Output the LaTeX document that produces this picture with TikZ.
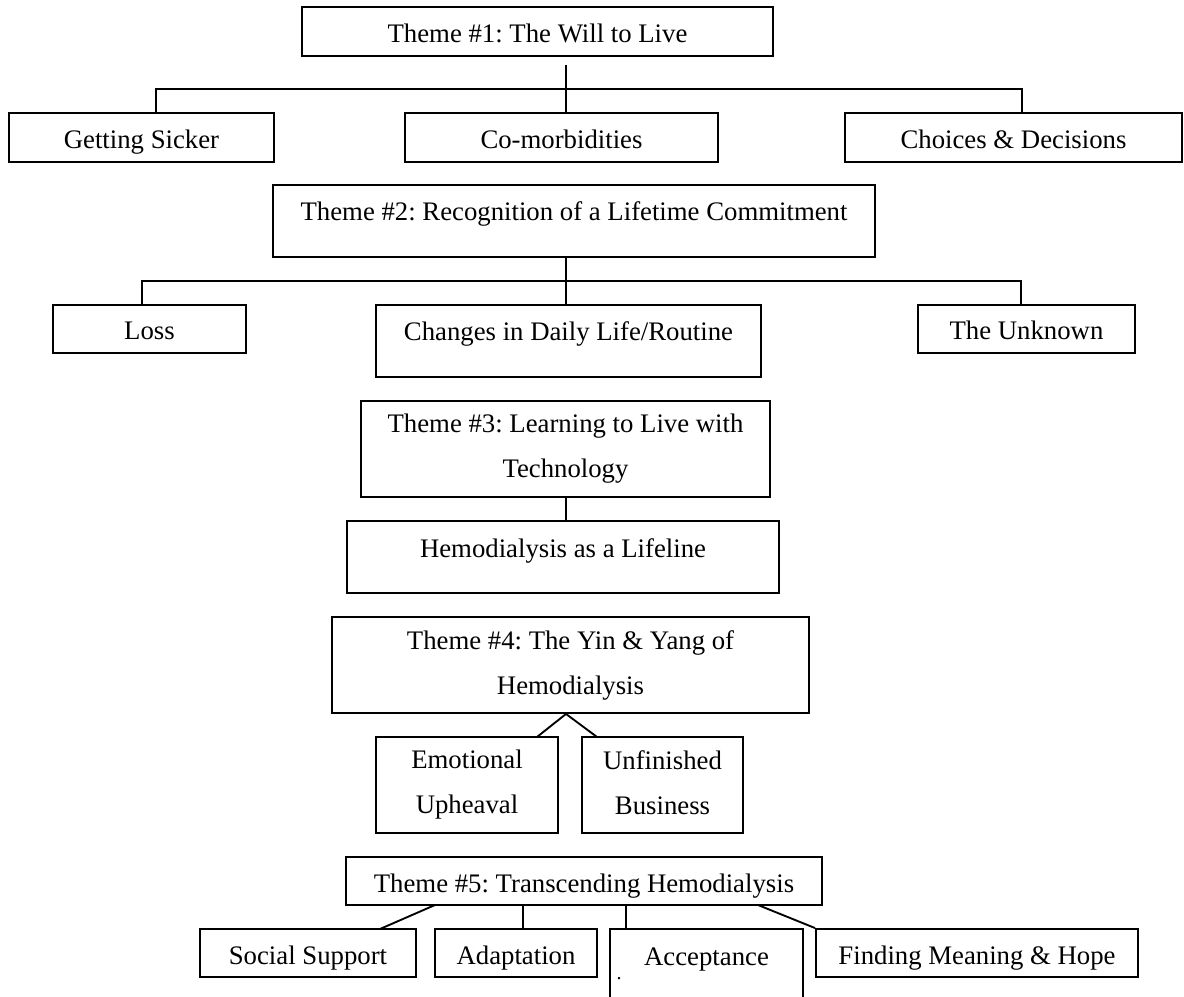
\documentclass[tikz,border=0pt]{standalone}
\usepackage{fontspec}
\setmainfont{Liberation Serif}
\frenchspacing
\begin{document}
\begin{tikzpicture}[
    x=0.4pt,
    y=-0.4pt,
    line join=miter,
    every node/.style={
        font=\fontsize{10.7}{18}\selectfont
    },
    box/.style={
        draw,
        line width=0.75pt,
        inner sep=0pt,
        align=center
    },
    single/.style={
        box,
        text height=9.4pt,
        text depth=0.6pt
    },
    lifted/.style={
        box,
        text height=9.2pt,
        text depth=9.2pt
    },
    pair/.style={
        box,
        execute at begin node={\rule{0pt}{9.6pt}},
        execute at end node={\rule[-2pt]{0pt}{2pt}}
    },
    link/.style={
        line width=0.75pt
    }
]

\useasboundingbox (0,0) rectangle (1184,997);
\clip (0,0) rectangle (1184,997);

% =================================================
% Theme #1 and its subthemes
% =================================================

\node[single, minimum width=188.4pt, minimum height=19.6pt] (t1) at (537.5,31.5) {Theme \#1: The Will to Live};

\node[single, minimum width=106pt,   minimum height=19.6pt] (sick)   at (141.5,137.5)  {Getting Sicker};
\node[single, minimum width=125.2pt, minimum height=19.6pt] (comorb) at (561.5,137.5)  {Co-morbidities};
\node[single, minimum width=134.8pt, minimum height=19.6pt] (choice) at (1013.5,137.5) {Choices \& Decisions};

\coordinate (trunk1) at (566,65);
\coordinate (busL1)  at (156,89);
\coordinate (busR1)  at (1022,89);

\draw[link] (trunk1) -- (trunk1 |- comorb.north);
\draw[link] (sick.north -| busL1) -- (busL1) -- (busR1) -- (choice.north -| busR1);

% =================================================
% Theme #2 and its subthemes
% =================================================

\node[lifted, minimum width=240.8pt, minimum height=28.8pt] (t2) at (574,221) {Theme \#2: Recognition of a Lifetime Commitment};

\node[single, minimum width=77.2pt, minimum height=19.2pt] (loss)    at (149.5,329)  {Loss};
\node[lifted, minimum width=154pt,  minimum height=28.8pt] (routine) at (568.5,341)  {Changes in Daily Life/Routine};
\node[single, minimum width=86.8pt, minimum height=19.2pt] (unknown) at (1026.5,329) {The Unknown};

\coordinate (busL2) at (142,281);
\coordinate (busR2) at (1021,281);

\draw[link] (t2.south -| trunk1) -- (routine.north -| trunk1);
\draw[link] (loss.north -| busL2) -- (busL2) -- (busR2) -- (unknown.north -| busR2);

% =================================================
% Theme #3
% =================================================

\node[pair, minimum width=163.6pt, minimum height=38.4pt] (t3) at (565.5,449) {Theme \#3: Learning to Live with\\Technology};

\node[lifted, minimum width=172.8pt, minimum height=28.8pt] (lifeline) at (563,557) {Hemodialysis as a Lifeline};

\draw[link] (t3.south -| trunk1) -- (lifeline.north -| trunk1);

% =================================================
% Theme #4
% =================================================

\node[pair, minimum width=190.8pt, minimum height=38.4pt] (t4) at (570.5,665) {Theme \#4: The Yin \& Yang of\\Hemodialysis};

\node[pair, minimum width=72.8pt, minimum height=38.4pt] (upheaval) at (467,785)   {Emotional\\Upheaval};
\node[pair, minimum width=64.4pt, minimum height=38.4pt] (business) at (662.5,785) {Unfinished\\Business};

\coordinate (footE) at (537,737);
\coordinate (footB) at (597,737);

\draw[link] (footE) -- (t4.south -| trunk1) -- (footB);

% =================================================
% Theme #5 and its subthemes
% =================================================

\node[single, minimum width=190.4pt, minimum height=19.2pt] (t5) at (584,881) {Theme \#5: Transcending Hemodialysis};

\node[single, minimum width=86.4pt,  minimum height=19.2pt] (support) at (308,953)   {Social Support};
\node[single, minimum width=64.8pt,  minimum height=19.2pt] (adapt)   at (516,953)   {Adaptation};
\node[lifted, minimum width=77.2pt,  minimum height=28.8pt] (accept)  at (706.5,965) {Acceptance};
\node[single, minimum width=128.8pt, minimum height=19.2pt] (hope)    at (977,953)   {Finding Meaning \& Hope};

\node[font=\fontsize{8}{8}\selectfont] (acceptdot) at (619,979) {.};

\coordinate (s5a) at (435,905);
\coordinate (s5b) at (523,905);
\coordinate (s5c) at (626,905);
\coordinate (s5d) at (758,905);
\coordinate (footS) at (380,929);

\draw[link] (s5a) -- (footS);
\draw[link] (s5b) -- (s5b |- adapt.north);
\draw[link] (s5c) -- (s5c |- accept.north);
\draw[link] (s5d) -- (hope.north west);

\end{tikzpicture}
\end{document}
